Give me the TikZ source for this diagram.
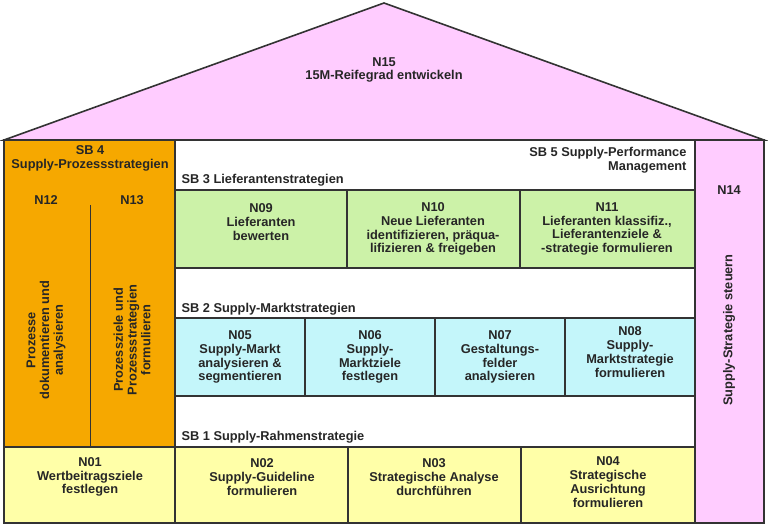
\documentclass[tikz,border=0pt]{standalone}
\usepackage{fontspec}
\setmainfont{Liberation Sans}
\begin{document}
\begin{tikzpicture}[x=1pt,y=-1pt,
  box/.style={draw=black!80,line width=1.6pt},
  lbl/.style={font=\bfseries\fontsize{12.8}{13.8}\selectfont,align=center,text=black!85},
  ttl/.style={font=\bfseries\fontsize{12.8}{13.8}\selectfont,anchor=west,text=black!85}]
\definecolor{pk}{HTML}{FFCCFF}
\definecolor{og}{HTML}{F6A800}
\definecolor{gr}{HTML}{CCF2A8}
\definecolor{cy}{HTML}{C4F6FA}
\definecolor{ye}{HTML}{FFFFA8}
\useasboundingbox (0,0) rectangle (768,526);
% roof
\draw[box,fill=pk] (4,140) -- (384,3) -- (764,140) -- cycle;
\node[lbl] (n15) at (384,70) {N15\\15M-Reifegrad entwickeln};
% middle white
\draw[box,fill=white] (175,140) rectangle (695,447);
% left SB4
\draw[box,fill=og] (4,140) rectangle (175,447);
\draw[black!80,line width=1pt] (90,205) -- (90,447);
\node[lbl] (sb4) at (90,158) {SB 4\\Supply-Prozessstrategien};
\node[lbl] (n12) at (46,200) {N12};
\node[lbl] (n13) at (132,200) {N13};
\node[lbl,rotate=90] (t12) at (46,340) {Prozesse\\dokumentieren und\\analysieren};
\node[lbl,rotate=90] (t13) at (132,340) {Prozessziele und\\Prozessstrategien\\formulieren};
% right N14
\draw[box,fill=pk] (695,140) rectangle (764,523);
\node[lbl] (n14) at (729,190) {N14};
\node[lbl,rotate=90] (t14) at (729,330) {Supply-Strategie steuern};
% titles
\node[lbl,align=right,anchor=north east] (sb5) at (690,144) {SB 5 Supply-Performance\\Management};
\node[ttl] (sb3) at (178,180) {SB 3 Lieferantenstrategien};
\node[ttl] (sb2) at (178,309) {SB 2 Supply-Marktstrategien};
\node[ttl] (sb1) at (178,437) {SB 1 Supply-Rahmenstrategie};
% green row
\draw[box,fill=gr] (175,190) rectangle (347,268);
\draw[box,fill=gr] (347,190) rectangle (520,268);
\draw[box,fill=gr] (520,190) rectangle (695,268);
\node[lbl] (n09) at (261,222) {N09\\Lieferanten\\bewerten};
\node[lbl] (n10) at (433,229) {N10\\Neue Lieferanten\\identifizieren, präqua-\\lifizieren \& freigeben};
\node[lbl] (n11) at (607,229) {N11\\Lieferanten klassifiz.,\\Lieferantenziele \&\\-strategie formulieren};
% cyan row
\draw[box,fill=cy] (175,318) rectangle (305,396);
\draw[box,fill=cy] (305,318) rectangle (435,396);
\draw[box,fill=cy] (435,318) rectangle (565,396);
\draw[box,fill=cy] (565,318) rectangle (695,396);
\node[lbl] (n05) at (240,357) {N05\\Supply-Markt\\analysieren \&\\segmentieren};
\node[lbl] (n06) at (370,357) {N06\\Supply-\\Marktziele\\festlegen};
\node[lbl] (n07) at (500,357) {N07\\Gestaltungs-\\felder\\analysieren};
\node[lbl] (n08) at (630,352) {N08\\Supply-\\Marktstrategie\\formulieren};
% yellow row
\draw[box,fill=ye] (4,447) rectangle (175,523);
\draw[box,fill=ye] (175,447) rectangle (348,523);
\draw[box,fill=ye] (348,447) rectangle (521,523);
\draw[box,fill=ye] (521,447) rectangle (695,523);
\node[lbl] (n01) at (90,477) {N01\\Wertbeitragsziele\\festlegen};
\node[lbl] (n02) at (262,477) {N02\\Supply-Guideline\\formulieren};
\node[lbl] (n03) at (434,477) {N03\\Strategische Analyse\\durchführen};
\node[lbl] (n04) at (608,482) {N04\\Strategische\\Ausrichtung\\formulieren};
\end{tikzpicture}
\end{document}
